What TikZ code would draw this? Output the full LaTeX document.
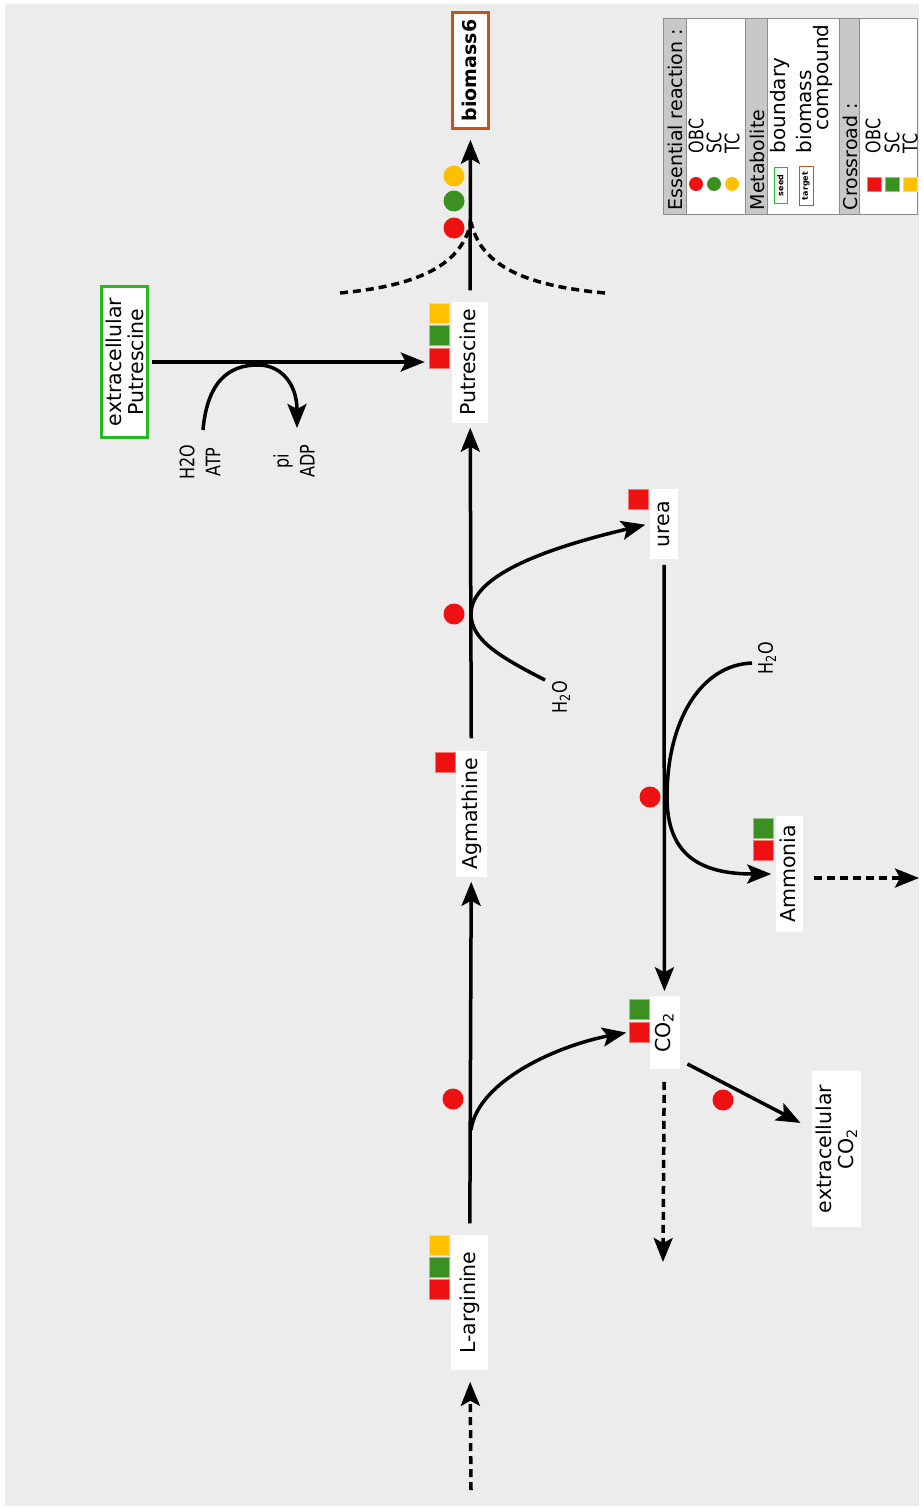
\documentclass[tikz,border=0pt]{standalone}
\usepackage{fontspec}
\setmainfont{DejaVu Sans}
\newfontfamily\narrowfont{DejaVu Sans}[FakeStretch=0.8]
\usetikzlibrary{arrows.meta}
\definecolor{bggrey}{HTML}{ECECEC}
\definecolor{obcred}{HTML}{EE1111}
\definecolor{scgreen}{HTML}{3A9020}
\definecolor{tcyellow}{HTML}{FFC000}
\definecolor{seedgreen}{HTML}{22BB22}
\definecolor{targetbrown}{HTML}{C0561C}
\definecolor{headgrey}{HTML}{C8C8C8}
\definecolor{rulegrey}{HTML}{8C8C8C}
\tikzset{
  metab/.style={rotate=90, fill=white, inner xsep=7pt, inner ysep=0pt,
    text height=15pt, text depth=4pt, font=\fontsize{20.5}{24}\selectfont},
  bigtext/.style={rotate=90, fill=white, align=center, inner sep=4pt,
    font=\fontsize{20.5}{22}\selectfont},
  sidelbl/.style={rotate=90, align=center, inner sep=0pt,
    font=\narrowfont\fontsize{20}{26}\selectfont},
  crossbox/.style={fill=#1, draw=#1!55!white, line width=0.5pt,
    minimum size=20pt, inner sep=0pt},
  essdot/.style={circle, fill=#1, inner sep=0pt, minimum size=21pt},
  legtext/.style={rotate=90, anchor=west, inner sep=0pt,
    font=\fontsize{20}{17}\selectfont},
  legnarrow/.style={legtext, font=\narrowfont\fontsize{20}{20}\selectfont},
}
\begin{document}
\begin{tikzpicture}[x=1pt, y=-1pt, line width=3.5pt,
    >={Stealth[length=24pt, width=19pt, inset=5pt]}]
  \fill[white] (0,0) rectangle (923,1509);
  \useasboundingbox (0,0) rectangle (923,1509);
  \fill[bggrey] (5,4) rectangle (919,1506);

  % metabolites
  \node[metab, minimum width=116pt, minimum height=36pt, draw=targetbrown,
    line width=2.5pt, font=\bfseries\fontsize{19}{22}\selectfont] (bio) at (470.5,70.5) {biomass6};
  \node[metab, minimum width=119pt, minimum height=36pt] (put) at (470,362.5) {Putrescine};
  \node[metab, minimum width=70pt, minimum height=28pt] (urea) at (664,524) {urea};
  \node[metab, minimum width=126pt, minimum height=31pt] (agm) at (471.5,814) {Agmathine};
  \node[metab, minimum width=116pt, minimum height=27pt] (amm) at (789.5,874) {Ammonia};
  \node[metab, minimum width=73pt, minimum height=30pt] (co2) at (664.5,1032.5) {CO\textsubscript{2}};
  \node[metab, minimum width=135pt, minimum height=37pt] (larg) at (469.5,1302.5) {L-arginine};
  \node[bigtext, draw=seedgreen, line width=2.5pt, minimum width=151pt,
    minimum height=42pt] (ePut) at (124.5,362) {extracellular\\Putrescine};
  \node[bigtext, minimum width=156pt, minimum height=47pt] (eCO2) at (836.5,1149) {extracellular\\CO\textsubscript{2}};

  % crossroad marks
  \node[crossbox=tcyellow] (putY) at (439,313) {};
  \node[crossbox=scgreen] (putG) at (439,335.5) {};
  \node[crossbox=obcred] (putR) at (439,358) {};
  \node[crossbox=obcred] (ureaR) at (638,499) {};
  \node[crossbox=obcred] (agmR) at (445,762) {};
  \node[crossbox=scgreen] (ammG) at (763,828) {};
  \node[crossbox=obcred] (ammR) at (763,850.5) {};
  \node[crossbox=scgreen] (co2G) at (639.5,1009.5) {};
  \node[crossbox=obcred] (co2R) at (639.5,1032) {};
  \node[crossbox=tcyellow] (largY) at (439,1245.5) {};
  \node[crossbox=scgreen] (largG) at (439,1267) {};
  \node[crossbox=obcred] (largR) at (439,1289) {};

  % side compounds
  \node[sidelbl] (atp) at (200,462) {H2O\\ATP};
  \node[sidelbl] (adp) at (294,461) {pi\\ADP};
  \node[sidelbl] (h2oA) at (561,697) {H\textsubscript{2}O};
  \node[sidelbl] (h2oB) at (767,658) {H\textsubscript{2}O};

  \coordinate (bj) at (471,222);
  \coordinate (bl) at (340,293);
  \coordinate (br) at (605,293);
  \coordinate (atpin) at (203,430);
  \coordinate (adpout) at (297,428);
  \coordinate (r2) at (471,614);
  \coordinate (h2oAin) at (545,680);
  \coordinate (r3) at (667,797);
  \coordinate (h2oBin) at (752,663);
  \coordinate (r1) at (471,1130);
  \coordinate (argin) at (471,1490);
  \coordinate (co2out) at (663,1262);
  \coordinate (ammout) at (919,878);

  % reactions
  \draw[->, shorten <=10pt, shorten >=10pt] (put) -- (bio);
  \draw[dashed, dash pattern=on 8pt off 5pt] (bl) .. controls (425,285) and (462,262) .. (bj);
  \draw[dashed, dash pattern=on 8pt off 5pt] (br) .. controls (517,285) and (480,262) .. (bj);
  \draw[->, shorten <=3pt, shorten >=4pt] (ePut.south) -- (ePut.south -| putR.west);
  \draw[->] (atpin) .. controls (208,372) and (238,365) .. (258,365)
    .. controls (282,365) and (297,385) .. (adpout);
  \draw[->, shorten <=11pt, shorten >=3pt] (agm) -- (put);
  \draw[->, shorten >=3pt] (h2oAin) .. controls (500,657) and (471,640) .. (r2)
    .. controls (471,572) and (560,545) .. (urea.north);
  \draw[->, shorten <=4pt, shorten >=3pt] (urea) -- (co2);
  \draw[->, shorten >=3pt] (h2oBin) .. controls (700,665) and (667,722) .. (r3)
    .. controls (667,855) and (700,874) .. (amm.north);
  \draw[->, dashed, dash pattern=on 8pt off 5pt] (amm.south) ++(9,4) -- (ammout);
  \draw[->, shorten <=10pt, shorten >=3pt] (larg) -- (agm);
  \draw[->, shorten >=3pt] (r1) .. controls (478,1080) and (560,1045) .. (co2R.west);
  \draw[->, dashed, dash pattern=on 8pt off 5pt, shorten >=10pt] (argin) -- (larg);
  \draw[->, dashed, dash pattern=on 8pt off 5pt, shorten <=11pt] (co2) -- (co2out);
  \draw[->, shorten <=7pt, shorten >=11pt] ([yshift=10pt]co2.south west) -- ([yshift=21pt]eCO2.north);

  % essential reactions
  \node[essdot=tcyellow] (bioY) at (454,176) {};
  \node[essdot=scgreen] (bioG) at (454,201) {};
  \node[essdot=obcred] (bioR) at (454,228) {};
  \node[essdot=obcred] (agmE) at (454,614) {};
  \node[essdot=obcred] (largE) at (453,1099) {};
  \node[essdot=obcred] (ureaE) at (650,797) {};
  \node[essdot=obcred] (co2E) at (723,1100) {};

  % legend
  \draw[rulegrey, line width=1pt, fill=white] (663,19) rectangle (917,214);
  \draw[rulegrey, line width=1pt, fill=headgrey] (663,19) rectangle (686,214);
  \draw[rulegrey, line width=1pt, fill=headgrey] (745,19) rectangle (767,214);
  \draw[rulegrey, line width=1pt, fill=headgrey] (839,19) rectangle (859,214);
  \node[legtext, font=\fontsize{19}{19}\selectfont] (hEss) at (675,212) {Essential reaction :};
  \node[legtext, font=\fontsize{19}{19}\selectfont] (hMet) at (757,212) {Metabolite};
  \node[legtext, font=\fontsize{19}{19}\selectfont] (hCross) at (850,212) {Crossroad :};
  \node[essdot=obcred, minimum size=14pt] (lgR) at (696,184) {};
  \node[essdot=scgreen, minimum size=14pt] (lgG) at (714,184) {};
  \node[essdot=tcyellow, minimum size=14pt] (lgY) at (732,184) {};
  \node[legnarrow] (lgOBC) at (696,155) {OBC};
  \node[legnarrow] (lgSC) at (714,155) {SC};
  \node[legnarrow] (lgTC) at (732,155) {TC};
  \node[rotate=90, draw=seedgreen, line width=1pt, fill=white, inner sep=0pt,
    minimum width=36pt, minimum height=13pt, font=\bfseries\fontsize{8}{8}\selectfont] (seed) at (780.5,185.5) {seed};
  \node[rotate=90, draw=targetbrown, line width=1pt, fill=white, inner sep=0pt,
    minimum width=39pt, minimum height=14pt, font=\bfseries\fontsize{8}{8}\selectfont] (target) at (806,186) {target};
  \node[legtext] (lgBound) at (780,155) {boundary};
  \node[legtext, anchor=base west, align=left] (lgBio) at (828,155) {biomass\\\hspace*{23pt}compound};
  \node[crossbox=obcred, minimum size=14pt] (lcR) at (874,184) {};
  \node[crossbox=scgreen, minimum size=14pt] (lcG) at (892.5,184) {};
  \node[crossbox=tcyellow, minimum size=14pt] (lcY) at (910,184) {};
  \node[legnarrow] (lcOBC) at (873,155) {OBC};
  \node[legnarrow] (lcSC) at (892,155) {SC};
  \node[legnarrow] (lcTC) at (910,155) {TC};
\end{tikzpicture}
\end{document}
